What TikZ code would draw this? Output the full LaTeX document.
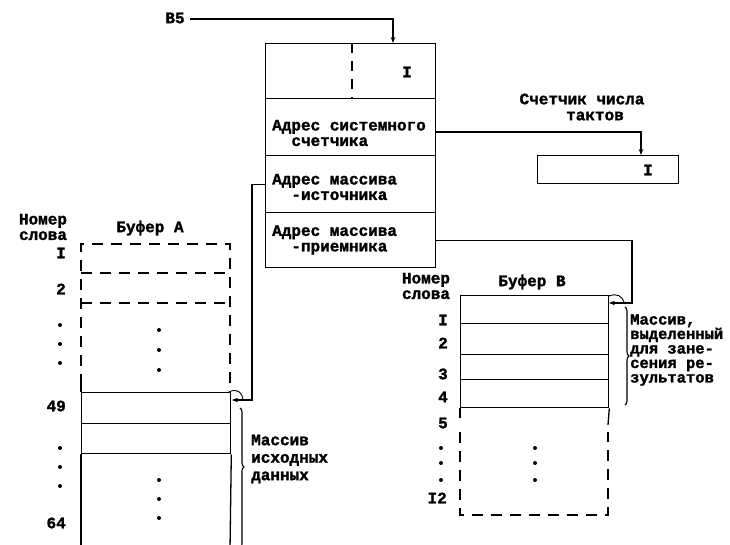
\documentclass[tikz,border=0pt]{standalone}
\usepackage{fontspec}
\setmainfont{Liberation Mono}[BoldFeatures={FakeBold=1.6}]
\usetikzlibrary{arrows.meta,decorations.pathreplacing}
\begin{document}
\begin{tikzpicture}[x=1pt,y=-1pt,
  lbl/.style={font=\fontsize{16}{15.5}\selectfont\bfseries, inner sep=0pt, align=left},
  num/.style={font=\fontsize{16}{16}\selectfont\bfseries, inner sep=0pt, anchor=east},
  cell/.style={draw, line width=1.3pt, inner sep=0pt, anchor=north west},
  wire/.style={line width=1.1pt},
  arr/.style={wire,-{Stealth[length=6pt,width=4.5pt]}},
  dsh/.style={line width=1.2pt, dash pattern=on 11pt off 8pt},
  solid1/.style={line width=1.3pt},
  dotm/.style={circle, fill, inner sep=0pt, minimum size=4pt},
  hook/.style={line width=0.9pt},
  brc/.style={line width=1.1pt, decorate, decoration={brace, amplitude=4pt}},
]
\fill[white] (0,0) rectangle (730,545);
\useasboundingbox (0,0) rectangle (730,545);

% central box
\node[cell, minimum width=170pt, minimum height=55pt] (r0) at (265,43) {};
\node[cell, minimum width=170pt, minimum height=57pt] (r1) at (265,98) {};
\node[cell, minimum width=170pt, minimum height=57pt] (r2) at (265,155) {};
\node[cell, minimum width=170pt, minimum height=55pt] (r3) at (265,212) {};
\draw[line width=1.3pt, dash pattern=on 10pt off 8pt] (352,43) -- (352,98);
\node[lbl] (r0i) at (407,72) {I};
\node[lbl, anchor=west] (t1) at (272,133) {Адрес системного\\\phantom{xx}счетчика};
\node[lbl, anchor=west] (t2) at (272,187) {Адрес массива\\\phantom{xx}-источника};
\node[lbl, anchor=west] (t3) at (272,240) {Адрес массива\\\phantom{xx}-приемника};

% B5 input
\node[lbl] (b5) at (175,18) {В5};
\coordinate (b5in) at (393,43);
\draw[arr] ([xshift=5pt,yshift=-1pt]b5.east) -| (b5in);

% counter
\node[lbl] (cl1) at (582,99) {Счетчик числа};
\node[lbl, anchor=west] (cl2) at (566,116) {тактов};
\node[cell, minimum width=141pt, minimum height=28pt] (cnt) at (537,155) {};
\node[lbl] (cnti) at (648,170) {I};
\coordinate (c1out) at (435,132);
\coordinate (cntin) at (641,155);
\draw[arr] (c1out) -| (cntin);

% Buffer A
\node[lbl, align=center] (anum) at (43,227) {Номер\\слова};
\node[lbl] (abuf) at (150,228) {Буфер А};
\draw[dsh] (81,385) -- (81,244) -- (230,244) -- (230,392);
\draw[dsh] (81,273) -- (230,273);
\draw[dsh] (81,303) -- (230,303);
\draw[solid1] (81,385) -- (81,392);
\node[cell, minimum width=149pt, minimum height=31pt] (a1) at (81,392) {};
\node[cell, minimum width=149pt, minimum height=30pt] (a2) at (81,423) {};
\draw[solid1] (a2.south west) -- (81,550);
\draw[solid1] (a2.south east) -- (230,550);
\node[num] (an1) at (66,253) {I};
\node[num] (an2) at (66,289) {2};
\node[num] (an49) at (66,406) {49};
\node[num] (an64) at (66,523) {64};
\foreach \yy [count=\i] in {325,344,363,448,467,486} \node[dotm] (ald\i) at (60,\yy) {};
\foreach \yy [count=\i] in {330,350,370,480,499,518} \node[dotm] (aid\i) at (159,\yy) {};

% source connector
\coordinate (ain) at (232,400);
\draw[arr] (r2.west) -- ++(-13,0) |- (ain);
\draw[hook] (231,391) .. controls (238,389) and (242,393) .. (243,399);
\draw[brc, decoration={aspect=0.42}] (240,408) -- (240,548);
\node[lbl, anchor=west, font=\fontsize{16}{17.5}\selectfont\bfseries] (adesc) at (251,459) {Массив\\исходных\\данных};

% Buffer B
\node[lbl, align=center] (bnum) at (426,286) {Номер\\слова};
\node[lbl] (bbuf) at (532,282) {Буфер В};
\node[cell, minimum width=148pt, minimum height=28pt] (b1) at (460,295) {};
\node[cell, minimum width=148pt, minimum height=31pt] (b2) at (460,323) {};
\node[cell, minimum width=148pt, minimum height=25pt] (b3) at (460,354) {};
\node[cell, minimum width=148pt, minimum height=28pt] (b4) at (460,379) {};
\draw[solid1] (b4.south west) -- (460,418);
\draw[solid1] (b4.south east) -- (608,425);
\draw[dsh] (460,432) -- (460,515) -- (608,515) -- (608,432);
\node[num] (bn1) at (448,320) {I};
\node[num] (bn2) at (448,343) {2};
\node[num] (bn3) at (448,374) {3};
\node[num] (bn4) at (448,397) {4};
\node[num] (bn5) at (448,423) {5};
\node[num] (bn12) at (447,498) {I2};
\foreach \yy [count=\i] in {448,463,480} \node[dotm] (bld\i) at (441,\yy) {};
\foreach \yy [count=\i] in {448,463,480} \node[dotm] (bid\i) at (535,\yy) {};

% destination connector
\coordinate (bin) at (609,303);
\coordinate (bturn) at (632,303);
\draw[arr] (r3.east) -- (r3.east -| bturn) |- (bin);
\draw[hook] (609,296) .. controls (617,293) and (622,296) .. (624,302);
\draw[brc] (625,307) -- (625,405);
\node[lbl, anchor=west, font=\fontsize{15.5}{14.5}\selectfont\bfseries] (bdesc) at (630,350) {Массив,\\выделенный\\для зане-\\сения ре-\\зультатов};
\end{tikzpicture}
\end{document}
